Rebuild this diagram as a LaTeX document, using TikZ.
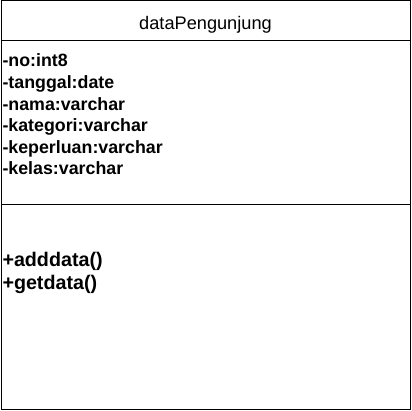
\documentclass[tikz,border=0pt]{standalone}
\usepackage{fontspec}
\setmainfont{Liberation Sans}
\usepackage{tikz}
\usetikzlibrary{positioning}
\tikzset{
  classbox/.style={draw=black, line width=1pt, minimum width=409pt, inner sep=0pt, outer sep=0pt},
  titletext/.style={font=\fontsize{18.2}{21}\selectfont, inner sep=0pt},
  attr/.style={font=\fontsize{17.8}{21}\selectfont\bfseries, text width=250pt, align=left, inner sep=0pt, outer sep=0pt, text height=15.6pt, text depth=6pt},
  oper/.style={font=\fontsize{19.7}{22}\selectfont\bfseries, text width=250pt, align=left, inner sep=0pt, outer sep=0pt, text height=16.5pt, text depth=6pt}
}

\begin{document}
\begin{tikzpicture}[x=1pt, y=-1pt]
\useasboundingbox (0,0) rectangle (412,411);
% class frame
\node[classbox, anchor=north west, minimum height=40pt] (head) at (1,1) {};
\node[classbox, below=0pt of head, minimum height=164pt] (fields) {};
\node[classbox, below=0pt of fields, minimum height=204pt] (methods) {};
\node[titletext, yshift=-4pt] (name) at (head.center) {dataPengunjung};
% attributes
\node[attr, below right=10.4pt and 1.5pt of fields.north west] (no) {-no:int8};
\node[attr, below=0pt of no] (tanggal) {-tanggal:date};
\node[attr, below=0pt of tanggal] (nama) {-nama:varchar};
\node[attr, below=0pt of nama] (kategori) {-kategori:varchar};
\node[attr, below=0pt of kategori] (keperluan) {-keperluan:varchar};
\node[attr, below=0pt of keperluan] (kelas) {-kelas:varchar};
% operations
\node[oper, below right=45.5pt and 1.5pt of methods.north west] (adddata) {+adddata()};
\node[oper, below=0pt of adddata] (getdata) {+getdata()};
\end{tikzpicture}
\end{document}
